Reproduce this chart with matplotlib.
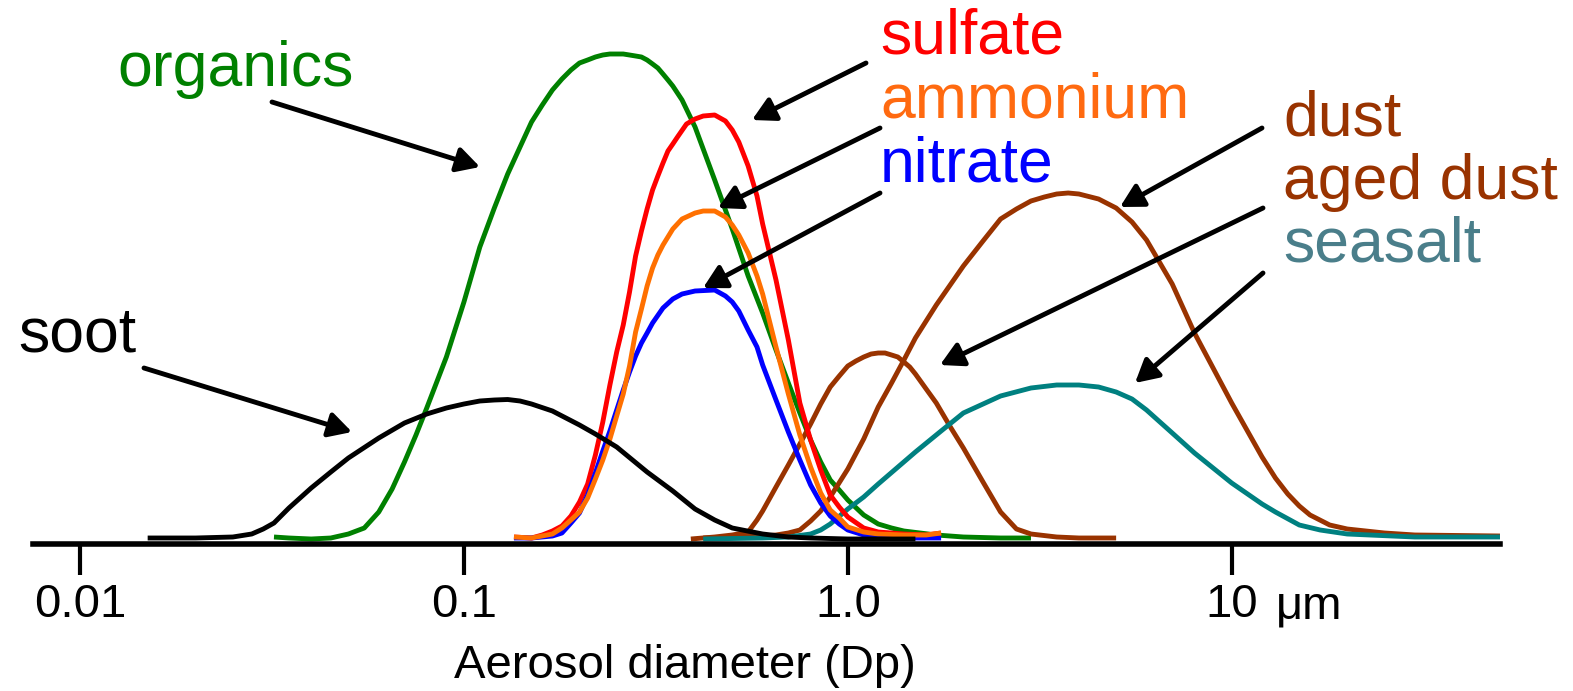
import numpy as np
import matplotlib.pyplot as plt
from matplotlib.ticker import FixedLocator, NullLocator

# aerosol diameter (um) and relative amount
soot_d = [0.015, 0.02, 0.025, 0.028, 0.03, 0.032, 0.035, 0.04, 0.045, 0.05, 0.06, 0.07,
          0.08, 0.09, 0.1, 0.11, 0.12, 0.13, 0.14, 0.15, 0.17, 0.2, 0.22, 0.25, 0.3,
          0.35, 0.4, 0.45, 0.5, 0.6, 0.7, 0.8, 1.0, 1.2, 1.5]
soot_h = [0.06, 0.06, 0.07, 0.10, 0.15, 0.21, 0.36, 0.56, 0.72, 0.86, 1.06, 1.21,
          1.30, 1.36, 1.40, 1.43, 1.44, 1.445, 1.43, 1.40, 1.33, 1.19, 1.10, 0.97, 0.72,
          0.53, 0.35, 0.24, 0.16, 0.10, 0.07, 0.06, 0.05, 0.05, 0.05]

org_d = [0.032, 0.035, 0.04, 0.045, 0.05, 0.055, 0.06, 0.065, 0.07, 0.075, 0.08, 0.09,
         0.1, 0.11, 0.12, 0.13, 0.14, 0.15, 0.16, 0.17, 0.18, 0.19, 0.2, 0.21, 0.22,
         0.23, 0.24, 0.26, 0.27, 0.28, 0.29, 0.3, 0.31, 0.32, 0.33, 0.34, 0.35, 0.37,
         0.4, 0.45, 0.5, 0.55, 0.6, 0.65, 0.7, 0.75, 0.8, 0.85, 0.9, 0.95, 1.0, 1.1,
         1.2, 1.3, 1.4, 1.7, 2.0, 2.5, 3.0]
org_h = [0.07, 0.06, 0.05, 0.06, 0.10, 0.16, 0.32, 0.55, 0.82, 1.09, 1.36, 1.87,
         2.42, 2.97, 3.36, 3.70, 3.97, 4.22, 4.39, 4.54, 4.65, 4.74, 4.81, 4.84, 4.87,
         4.89, 4.90, 4.90, 4.89, 4.88, 4.87, 4.84, 4.80, 4.76, 4.70, 4.64, 4.58, 4.44,
         4.17, 3.64, 3.15, 2.68, 2.31, 1.94, 1.61, 1.31, 1.04, 0.82, 0.64, 0.54, 0.44, 0.29,
         0.20, 0.16, 0.13, 0.09, 0.07, 0.06, 0.06]

so4_d = [0.135, 0.15, 0.16, 0.17, 0.18, 0.19, 0.2, 0.21, 0.22, 0.23, 0.24, 0.25, 0.26,
         0.27, 0.28, 0.29, 0.3, 0.31, 0.32, 0.33, 0.34, 0.35, 0.36, 0.38, 0.4, 0.42,
         0.45, 0.48, 0.5, 0.52, 0.55, 0.58, 0.6, 0.65, 0.7, 0.75, 0.8, 0.85, 0.9, 0.95,
         1.0, 1.1, 1.2, 1.4, 1.6, 1.75]
so4_h = [0.07, 0.06, 0.09, 0.13, 0.18, 0.28, 0.42, 0.60, 0.89, 1.22, 1.59, 1.92, 2.19,
         2.52, 2.88, 3.13, 3.35, 3.54, 3.68, 3.81, 3.93, 4.00, 4.07, 4.20, 4.25, 4.28,
         4.29, 4.23, 4.14, 4.02, 3.78, 3.48, 3.20, 2.64, 2.04, 1.41, 1.04, 0.74, 0.49, 0.37,
         0.27, 0.16, 0.12, 0.10, 0.09, 0.11]

nh4_d = [0.135, 0.15, 0.17, 0.18, 0.19, 0.2, 0.21, 0.22, 0.23, 0.24, 0.25, 0.26, 0.27,
         0.28, 0.29, 0.3, 0.31, 0.32, 0.33, 0.35, 0.37, 0.4, 0.42, 0.45, 0.48, 0.5,
         0.52, 0.55, 0.58, 0.6, 0.65, 0.7, 0.75, 0.8, 0.85, 0.9, 0.95, 1.0, 1.1, 1.2,
         1.4, 1.6, 1.75]
nh4_h = [0.07, 0.06, 0.10, 0.16, 0.24, 0.32, 0.46, 0.65, 0.84, 1.05, 1.28, 1.50, 1.78,
         2.12, 2.35, 2.58, 2.76, 2.89, 2.99, 3.15, 3.25, 3.31, 3.33, 3.33, 3.27, 3.19,
         3.09, 2.91, 2.68, 2.50, 1.97, 1.50, 1.09, 0.77, 0.51, 0.34, 0.26, 0.17, 0.12, 0.10,
         0.09, 0.09, 0.11]

no3_d = [0.135, 0.15, 0.17, 0.18, 0.19, 0.2, 0.21, 0.22, 0.23, 0.24, 0.25, 0.26, 0.27,
         0.28, 0.29, 0.3, 0.31, 0.33, 0.35, 0.37, 0.4, 0.45, 0.48, 0.5, 0.52, 0.55,
         0.58, 0.6, 0.65, 0.7, 0.75, 0.8, 0.85, 0.9, 0.95, 1.0, 1.1, 1.2, 1.5, 1.75]
no3_h = [0.06, 0.06, 0.08, 0.11, 0.21, 0.31, 0.49, 0.71, 0.93, 1.13, 1.34, 1.54, 1.72,
         1.88, 2.01, 2.11, 2.21, 2.36, 2.45, 2.50, 2.53, 2.54, 2.48, 2.42, 2.33, 2.14,
         1.97, 1.79, 1.44, 1.12, 0.84, 0.59, 0.41, 0.28, 0.20, 0.14, 0.09, 0.07, 0.06, 0.06]

aged_d = [0.39, 0.45, 0.5, 0.55, 0.58, 0.6, 0.65, 0.7, 0.75, 0.8, 0.85, 0.9, 0.95,
          1.0, 1.05, 1.1, 1.15, 1.2, 1.25, 1.3, 1.35, 1.4, 1.45, 1.5, 1.6, 1.7, 1.85,
          2.0, 2.25, 2.5, 2.75, 3.0, 3.5, 4.0, 5.0]
aged_h = [0.05, 0.07, 0.09, 0.12, 0.24, 0.33, 0.57, 0.79, 1.00, 1.20, 1.40, 1.57, 1.68,
          1.78, 1.83, 1.87, 1.90, 1.91, 1.91, 1.89, 1.87, 1.82, 1.77, 1.70, 1.55, 1.41, 1.17,
          0.96, 0.62, 0.32, 0.15, 0.10, 0.07, 0.06, 0.06]

dust_d = [0.42, 0.5, 0.6, 0.65, 0.7, 0.75, 0.8, 0.85, 0.9, 1.0, 1.1, 1.2, 1.3, 1.4,
          1.5, 1.7, 2.0, 2.25, 2.5, 2.75, 3.0, 3.25, 3.5, 3.75, 4.0, 4.5, 5.0, 5.5,
          6.0, 7.0, 8.0, 10.0, 12.0, 13.0, 14.0, 15.0, 16.0, 18.0, 20.0, 25.0, 30.0, 50.0]
dust_h = [0.06, 0.07, 0.08, 0.09, 0.11, 0.14, 0.23, 0.33, 0.47, 0.75, 1.05, 1.37, 1.61, 1.84,
          2.06, 2.39, 2.78, 3.03, 3.25, 3.35, 3.43, 3.47, 3.50, 3.51, 3.50, 3.45, 3.36, 3.22,
          3.04, 2.60, 2.11, 1.41, 0.87, 0.66, 0.50, 0.38, 0.29, 0.19, 0.15, 0.11, 0.09, 0.08]

salt_d = [0.42, 0.6, 0.7, 0.8, 0.85, 0.9, 1.0, 1.1, 1.2, 1.5, 1.75, 2.0, 2.5, 3.0,
          3.5, 4.0, 4.5, 5.0, 5.5, 6.0, 7.0, 8.0, 10.0, 12.0, 13.0, 15.0, 17.0, 20.0,
          30.0, 50.0]
salt_h = [0.05, 0.06, 0.07, 0.10, 0.14, 0.20, 0.35, 0.47, 0.60, 0.92, 1.13, 1.31, 1.48, 1.56,
          1.59, 1.59, 1.57, 1.52, 1.45, 1.34, 1.11, 0.91, 0.61, 0.40, 0.32, 0.19, 0.14, 0.10,
          0.07, 0.07]

tick_pos = [0.01, 0.1, 1.0, 10.0]
tick_labels = ['0.01', '0.1', '1.0', '10']

plt.rcParams['font.family'] = ['Liberation Sans', 'DejaVu Sans']

fig = plt.figure(figsize=(15.73, 6.91), dpi=100)
ax = fig.add_axes([33/1573, 147/691, 1467/1573, 544/691])
ax.set_xscale('log')
ax.set_xlim(0.00754, 50)
ax.set_ylim(0, 5.44)

lw = 3.5
style = dict(lw=lw, solid_joinstyle='round', solid_capstyle='butt')
ax.plot(org_d, org_h, color='#008000', clip_on=False, **style)
ax.plot(dust_d, dust_h, color='#993300', **style)
ax.plot(aged_d, aged_h, color='#993300', **style)
ax.plot(salt_d, salt_h, color='#008080', **style)
ax.plot(so4_d, so4_h, color='#FF0000', **style)
ax.plot(no3_d, no3_h, color='#0000FF', **style)
ax.plot(nh4_d, nh4_h, color='#FF7000', **style)
ax.plot(soot_d, soot_h, color='black', **style)

for s in ['left', 'top', 'right']:
    ax.spines[s].set_visible(False)
ax.spines['bottom'].set_linewidth(4)
ax.set_yticks([])
ax.xaxis.set_major_locator(FixedLocator(tick_pos))
ax.xaxis.set_minor_locator(NullLocator())
ax.set_xticklabels(tick_labels)
ax.tick_params(axis='x', length=22, width=3, pad=5.8, labelsize=34)
ax.annotate('\u03bcm', xy=(10, 0), xycoords=('data', 'axes fraction'),
            xytext=(32, -53.3), textcoords='offset points',
            fontsize=34, ha='left', va='baseline')

fig.text(685/1573, (691-678)/691, 'Aerosol diameter (Dp)', ha='center', va='baseline', fontsize=34)

# labels: text, colour, left x, baseline y (image pixels from top)
labels = [('organics', '#008000', 117, 86), ('soot', 'black', 18, 351),
          ('sulfate', '#FF0000', 880, 54), ('ammonium', '#FF6A10', 880, 118),
          ('nitrate', '#0000FF', 880, 181), ('dust', '#993300', 1283, 136),
          ('aged dust', '#993300', 1283, 199), ('seasalt', '#4A7E8A', 1283, 262)]
for txt, c, x, y in labels:
    fig.text(x/1573, (691-y)/691, txt, color=c, fontsize=45, ha='left', va='baseline')

# arrows: start -> tip, image pixels
arrows = [((272, 102), (480, 167)), ((144, 368), (352, 432)),
          ((866, 63), (752, 120)), ((880, 128), (718, 208)),
          ((880, 193), (703, 288)), ((1262, 128), (1120, 207)),
          ((1263, 208), (940, 365)), ((1263, 273), (1135, 383))]
for (x0, y0), (x1, y1) in arrows:
    ax.annotate('', xy=(x1, 691-y1), xycoords='figure pixels',
                xytext=(x0, 691-y0), textcoords='figure pixels',
                arrowprops=dict(arrowstyle='-|>,head_length=0.55,head_width=0.3',
                                color='black', lw=3.5, mutation_scale=25,
                                shrinkA=0, shrinkB=0))

fig.savefig('out.png', dpi=100)
